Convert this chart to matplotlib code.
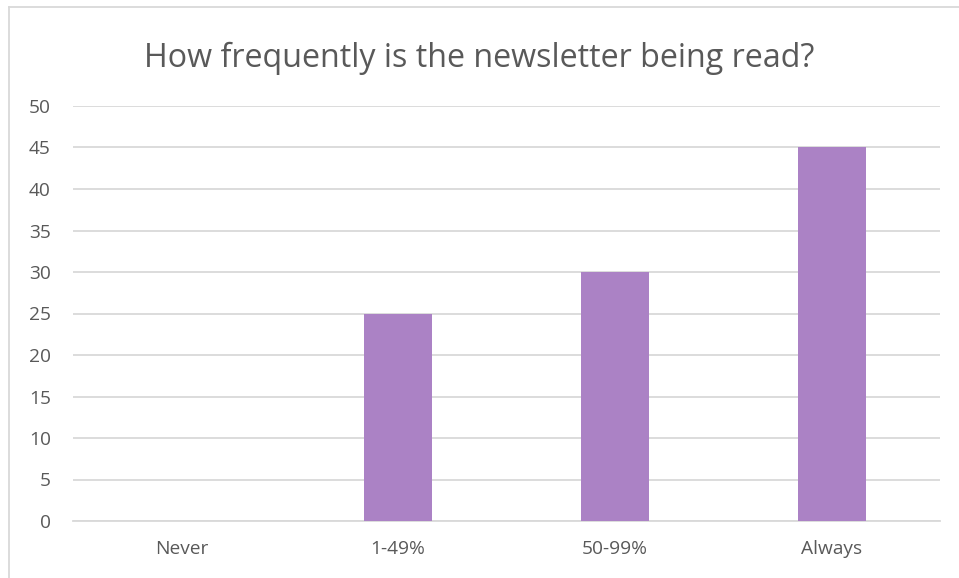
import matplotlib
matplotlib.use("Agg")
import matplotlib.pyplot as plt
from matplotlib.lines import Line2D

# data
categories = ["Never", "1-49%", "50-99%", "Always"]
values = [0, 25, 30, 45]
yticks = [0, 5, 10, 15, 20, 25, 30, 35, 40, 45, 50]

plt.rcParams["font.family"] = ["Open Sans", "DejaVu Sans"]
text_color = "#595959"
grid_color = "#d9d9d9"
bar_color = "#ab82c5"

W, H = 959, 578
fig = plt.figure(figsize=(W / 100, H / 100), dpi=100)
ax = fig.add_axes([73 / W, 1 - 521 / H, (940 - 73) / W, (521 - 106) / H])

x = range(len(categories))
ax.bar(x, values, width=0.314, color=bar_color, zorder=3)

ax.set_xlim(-0.5, len(categories) - 0.5)
ax.set_ylim(0, 50)
ax.set_yticks(yticks)
ax.set_xticks(list(x))
ax.set_xticklabels(categories)
ax.grid(axis="y", color=grid_color, linewidth=1.3, zorder=0)
for s in ["top", "right", "left"]:
    ax.spines[s].set_visible(False)
ax.spines["bottom"].set_color(grid_color)
ax.spines["bottom"].set_linewidth(1.3)
ax.tick_params(axis="both", length=0, colors=text_color, labelsize=13.8)
ax.tick_params(axis="y", pad=16)
ax.tick_params(axis="x", pad=14)

fig.text(0.5, 1 - 58 / H, "How frequently is the newsletter being read?",
         ha="center", va="center", fontsize=23.2, color=text_color)

# chart border (top and left visible)
fig.add_artist(Line2D([9 / W, 1], [1 - 7 / H, 1 - 7 / H], transform=fig.transFigure,
                      color=grid_color, linewidth=1.3))
fig.add_artist(Line2D([9 / W, 9 / W], [0, 1 - 7 / H], transform=fig.transFigure,
                      color=grid_color, linewidth=1.3))

fig.savefig("out.png", dpi=100, facecolor="white")
